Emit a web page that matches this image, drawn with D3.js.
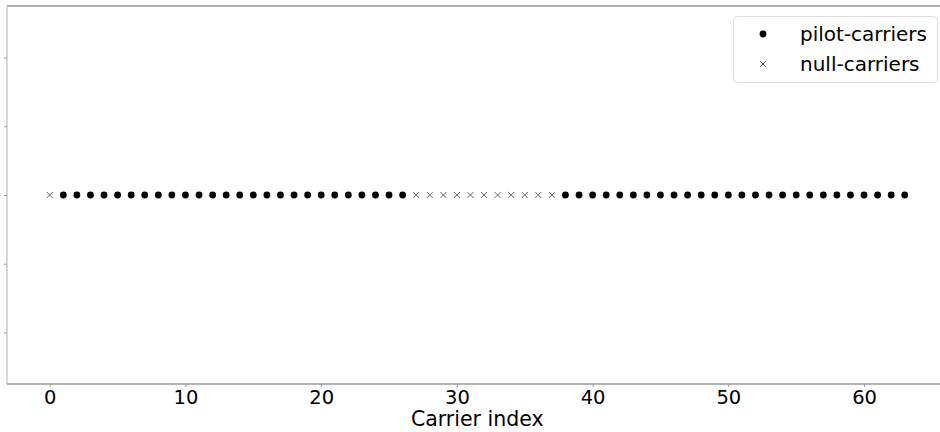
<!DOCTYPE html>
<html>
<head>
<meta charset="utf-8">
<script src="https://cdn.jsdelivr.net/npm/d3@7"></script>
<style>
  html, body { margin: 0; padding: 0; background: #fff; }
  svg { display: block; font-family: "DejaVu Sans", sans-serif; }
</style>
</head>
<body>
<svg id="chart" width="940" height="432"></svg>
<script>
// Carrier layout: index and type of each OFDM subcarrier
const carrierIndex = d3.range(0, 64);
const nullCarriers = [0, 27, 28, 29, 30, 31, 32, 33, 34, 35, 36, 37];
const pilotCarriers = carrierIndex.filter(i => !nullCarriers.includes(i));
const carrierLevel = 0;
const xTicks = [0, 10, 20, 30, 40, 50, 60];
const yTicks = [-0.04, -0.02, 0, 0.02, 0.04];
const legendLabels = ["pilot-carriers", "null-carriers"];

const svg = d3.select("#chart");
const W = 940, H = 432;
const plot = { left: 7, right: 947.5, top: 6, bottom: 384 };

const x = d3.scaleLinear().domain([-3.15, 66.15]).range([plot.left, plot.right]);
const y = d3.scaleLinear().domain([-0.055, 0.055]).range([plot.bottom, plot.top]);

// spines
svg.append("line").attr("x1", plot.left).attr("x2", W).attr("y1", plot.top).attr("y2", plot.top)
  .attr("stroke", "#9a9a9a").attr("stroke-width", 1.5);
svg.append("line").attr("x1", plot.left).attr("x2", plot.left).attr("y1", plot.top).attr("y2", plot.bottom)
  .attr("stroke", "#cccccc").attr("stroke-width", 1.5);
svg.append("line").attr("x1", plot.left).attr("x2", W).attr("y1", plot.bottom).attr("y2", plot.bottom)
  .attr("stroke", "#9a9a9a").attr("stroke-width", 1.5);

// x axis
const xAxis = svg.append("g").attr("transform", `translate(0,${plot.bottom})`)
  .call(d3.axisBottom(x).tickValues(xTicks).tickSize(3).tickPadding(3).tickFormat(d3.format("d")));
xAxis.select(".domain").remove();
xAxis.selectAll(".tick line").attr("stroke", "#999");
xAxis.selectAll(".tick text").attr("font-size", 19.5).attr("fill", "#000")
  .attr("font-family", "DejaVu Sans, sans-serif");

// y axis: tick marks only
const yAxis = svg.append("g").attr("transform", `translate(${plot.left},0)`)
  .call(d3.axisLeft(y).tickValues(yTicks).tickSize(3).tickFormat(""));
yAxis.select(".domain").remove();
yAxis.selectAll(".tick line").attr("stroke", "#999");

// axis label centred on the axes
svg.append("text").attr("x", x(31.5)).attr("y", 426).attr("text-anchor", "middle")
  .attr("font-size", 20.5).attr("fill", "#000").text("Carrier index");

// markers
const crossPath = s => `M${-s},${-s}L${s},${s}M${-s},${s}L${s},${-s}`;

svg.append("g").selectAll("circle").data(pilotCarriers).join("circle")
  .attr("cx", d => x(d)).attr("cy", y(carrierLevel)).attr("r", 3.4).attr("fill", "#000");

svg.append("g").selectAll("path").data(nullCarriers).join("path")
  .attr("transform", d => `translate(${x(d)},${y(carrierLevel)})`)
  .attr("d", crossPath(3)).attr("stroke", "#555").attr("stroke-width", 0.9).attr("fill", "none");

// legend
const lg = svg.append("g");
lg.append("rect").attr("x", 733.5).attr("y", 16.5).attr("width", 204).attr("height", 66).attr("rx", 4)
  .attr("fill", "#fff").attr("stroke", "#dddddd").attr("stroke-width", 1);
lg.append("circle").attr("cx", 763).attr("cy", 34).attr("r", 3.4).attr("fill", "#000");
lg.append("path").attr("transform", "translate(763,64)").attr("d", crossPath(3))
  .attr("stroke", "#555").attr("stroke-width", 0.9).attr("fill", "none");
lg.selectAll("text").data(legendLabels).join("text")
  .attr("x", 800).attr("y", (d, i) => 34 + i * 30).attr("dy", "0.36em")
  .attr("font-size", 20).attr("fill", "#000").text(d => d);
</script>
</body>
</html>
